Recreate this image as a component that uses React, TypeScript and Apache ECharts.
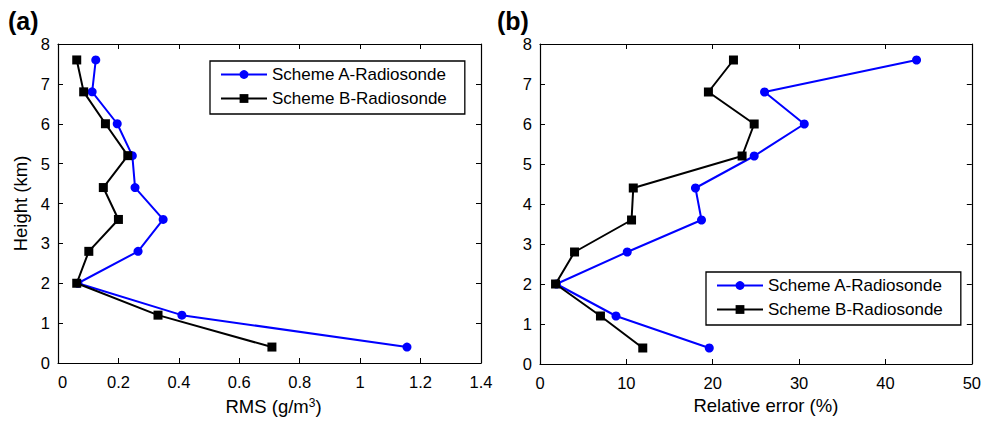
import React, { useEffect, useRef } from "react";
import * as echarts from "echarts";

const heights = [0.4, 1.2, 2.0, 2.8, 3.6, 4.4, 5.2, 6.0, 6.8, 7.6];
const rmsA = [1.155, 0.41, 0.066, 0.265, 0.348, 0.255, 0.246, 0.196, 0.113, 0.125];
const rmsB = [0.708, 0.331, 0.062, 0.102, 0.2, 0.15, 0.231, 0.157, 0.085, 0.062];
const relA = [19.6, 8.8, 1.9, 10.1, 18.7, 18.0, 24.8, 30.6, 26.0, 43.6];
const relB = [11.9, 7.0, 1.8, 4.0, 10.6, 10.8, 23.4, 24.8, 19.5, 22.4];
const nameA = "Scheme A-Radiosonde";
const nameB = "Scheme B-Radiosonde";

const FONT = "Liberation Sans, Arial, Helvetica, sans-serif";

const pairs = (xs: number[]) => xs.map((x, i) => [x, heights[i]]);

export default function App() {
  const ref = useRef<HTMLDivElement>(null);
  useEffect(() => {
    const chart = echarts.init(ref.current!, undefined, { renderer: "svg" });
    const fmt = (v: number) => String(Number(v.toFixed(2)));
    const axisLine = { show: true, onZero: false, lineStyle: { color: "#000", width: 1.2 } };
    const tickIn = { show: true, inside: true, length: 5, lineStyle: { color: "#000", width: 1 } };
    const lbl = { color: "#000", fontSize: 16.5, fontFamily: FONT };
    const mkX = (grid: number, max: number, interval: number, name: string, gap: number, pad: number[]) => [
      {
        type: "value", gridIndex: grid, min: 0, max, interval, position: "bottom",
        axisLine, axisTick: tickIn, splitLine: { show: false },
        axisLabel: { ...lbl, margin: 10, formatter: fmt, alignMinLabel: grid === 0 ? "left" : "center" },
        name, nameLocation: "middle", nameGap: gap,
        nameTextStyle: {
          color: "#000", fontSize: 18.5, fontFamily: FONT, padding: pad,
          rich: { sup: { fontSize: 12, fontFamily: FONT, color: "#000", verticalAlign: "top" } },
        },
      },
      {
        type: "value", gridIndex: grid, min: 0, max, interval, position: "top",
        axisLine, axisTick: tickIn, splitLine: { show: false }, axisLabel: { show: false },
      },
    ];
    const mkY = (grid: number, name: string) => [
      {
        type: "value", gridIndex: grid, min: 0, max: 8, interval: 1, position: "left",
        axisLine, axisTick: tickIn, splitLine: { show: false },
        axisLabel: { ...lbl, margin: 8 },
        name, nameLocation: "middle", nameGap: 28, nameRotate: 90,
        nameTextStyle: { color: "#000", fontSize: 18.5, fontFamily: FONT },
      },
      {
        type: "value", gridIndex: grid, min: 0, max: 8, interval: 1, position: "right",
        axisLine, axisTick: tickIn, splitLine: { show: false }, axisLabel: { show: false },
      },
    ];
    const ser = (name: string, data: number[][], xi: number, yi: number, blue: boolean) => ({
      type: "line", name, data, xAxisIndex: xi, yAxisIndex: yi,
      symbol: blue ? "circle" : "rect", symbolSize: 9,
      showSymbol: true,
      lineStyle: { color: blue ? "#0000ff" : "#000", width: 2 },
      itemStyle: { color: blue ? "#0000ff" : "#000" },
      z: blue ? 2 : 3,
    });
    const legendBase = {
      orient: "vertical", data: [nameA, nameB], itemWidth: 46, itemHeight: 11, itemGap: 7,
      borderColor: "#000", borderWidth: 1.3, backgroundColor: "#fff",
      selectedMode: false, padding: [5, 18, 7, 10],
      textStyle: { color: "#000", fontSize: 17, fontFamily: FONT },
    };
    chart.setOption({
      animation: false,
      backgroundColor: "#fff",
      grid: [
        { left: 58, right: 503, top: 44, bottom: 57 },
        { left: 540, right: 10, top: 44, bottom: 57 },
      ],
      xAxis: [
        ...mkX(0, 1.4, 0.2, "RMS (g/m{sup|3})", 34, [0, 0, 0, 8]),
        ...mkX(1, 50, 10, "Relative error (%)", 24, [0, 0, 0, 20]),
      ],
      yAxis: [...mkY(0, "Height (km)"), ...mkY(1, "")],
      legend: [
        { ...legendBase, left: 210, top: 61 },
        { ...legendBase, left: 706, top: 272 },
      ],
      series: [
        ser(nameA, pairs(rmsA), 0, 0, true),
        ser(nameB, pairs(rmsB), 0, 0, false),
        ser(nameA, pairs(relA), 2, 2, true),
        ser(nameB, pairs(relB), 2, 2, false),
      ],
      graphic: [
        { type: "text", left: 8, top: 8, style: { text: "(a)", font: `bold 25px ${FONT}`, fill: "#000" } },
        { type: "text", left: 497, top: 8, style: { text: "(b)", font: `bold 25px ${FONT}`, fill: "#000" } },
      ],
    });
    return () => chart.dispose();
  }, []);
  return <div ref={ref} style={{ position: "fixed", left: 0, top: 0, width: 984, height: 421 }} />;
}
